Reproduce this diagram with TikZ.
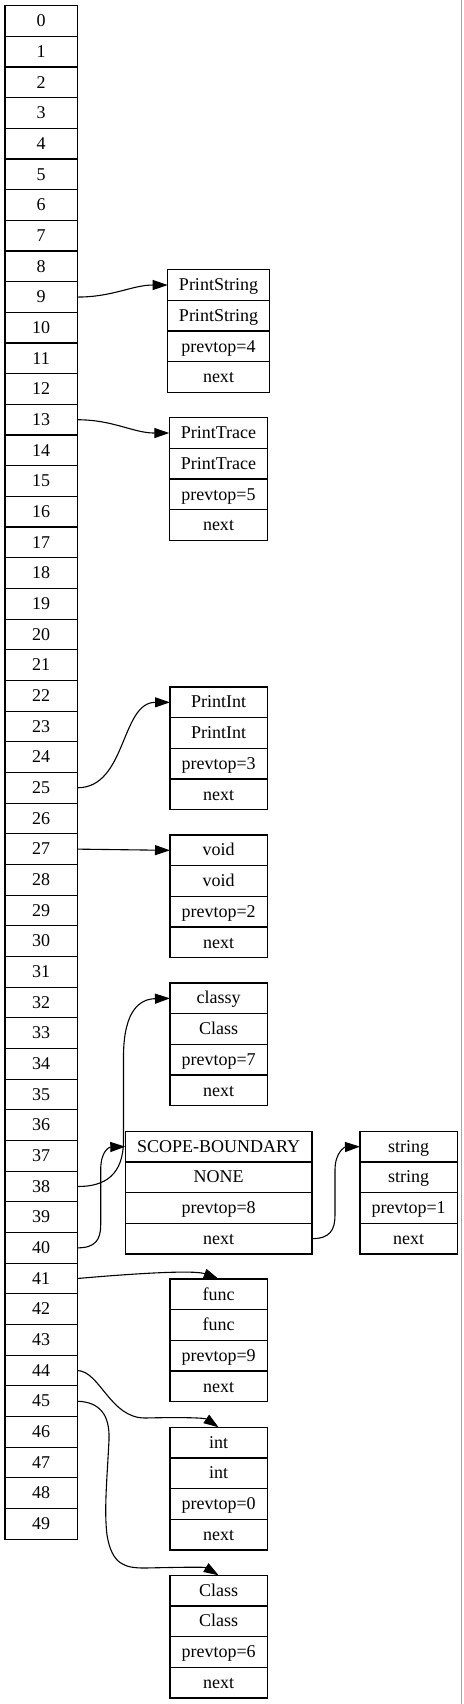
\documentclass[tikz,border=0pt]{standalone}
\usepackage{fontspec}
\newfontfamily\recfont{Liberation Serif}
\usetikzlibrary{positioning,arrows.meta}

\tikzset{
	cell/.style={draw, line width=1.2pt, minimum width=72.3pt, minimum height=30.67pt,
		inner sep=0pt, outer sep=0pt, text height=13pt, text depth=1.7pt,
		font=\recfont\fontsize{18pt}{20pt}\selectfont},
	field/.style={cell},
	link/.style={line width=1.1pt, -{Triangle[length=15pt,width=10pt]}}
}

\begin{document}
\begin{tikzpicture}[x=1pt, y=-1pt]
		\useasboundingbox (0,0) rectangle (463,1704);
		\draw[gray!70, line width=1.3pt] (461.7,0) -- (461.7,1704);

		% the table of slots
		\foreach \i in {0,...,49} {
			\node[cell] (c\i) at (41.15, {5.7+30.67*(\i+0.5)}) {\i};
		}

		% the entries
		\foreach \nm/\xc/\yt/\w/\ta/\tb/\tc in {
				ps/218.5/269.7/101.6/PrintString/PrintString/4,
				pt/218.5/417.7/98.4/PrintTrace/PrintTrace/5,
				pi/218.65/687/97.3/PrintInt/PrintInt/3,
				vd/218.65/835/97.3/void/void/2,
				cl/218.65/983/97.3/classy/Class/7,
				sb/218.65/1131.3/186.7/SCOPE-BOUNDARY/NONE/8,
				st/408.65/1131.3/97.3/string/string/1,
				fn/218.65/1279/97.3/func/func/9,
				it/218.65/1427.3/97.3/int/int/0,
				cs/218.65/1575.3/97.3/Class/Class/6} {
			\node[field, minimum width=\w pt, anchor=north] (\nm-1) at (\xc,\yt) {\ta};
			\node[field, minimum width=\w pt, below=0pt of \nm-1] (\nm-2) {\tb};
			\node[field, minimum width=\w pt, below=0pt of \nm-2] (\nm-3) {prevtop=\tc};
			\node[field, minimum width=\w pt, below=0pt of \nm-3] (\nm-4) {next};
		}

		\draw[link] (c9.east) to[out=0, in=180] (ps-1.west);
		\draw[link] (c13.east) to[out=0, in=180] (pt-1.west);
		\draw[link] (c25.east) to[out=0, in=180] (pi-1.west);
		\draw[link] (c27.east) -- (vd-1.west);
		\draw[link] (c38.east) .. controls (105,1186.7) and (123.5,1175) .. (123.5,1140)
			-- (123.5,1055) .. controls (124,1010) and (140,999) .. (cl-1.west);
		\draw[link] (c40.east) .. controls (95,1248) and (100.7,1240) .. (100.7,1225)
			-- (100.7,1170) .. controls (100.7,1150) and (110,1147) .. (sb-1.west);
		\draw[link] (sb-4.east) .. controls (330,1238.6) and (335,1230) .. (335,1215)
			-- (335,1170) .. controls (335,1152) and (345,1147) .. (st-1.west);
		\draw[link] (c41.east) .. controls (140,1273) and (195,1270) .. (fn-1.north);
		\draw[link] (c44.east) .. controls (100,1371) and (110,1418) .. (145,1418)
			.. controls (185,1417) and (205,1418) .. (it-1.north);
		\draw[link] (c45.east) .. controls (100,1402) and (110,1415) .. (109,1440)
			.. controls (107,1480) and (104,1510) .. (107,1535)
			.. controls (112,1565) and (125,1568) .. (145,1568)
			.. controls (190,1567) and (205,1567) .. (cs-1.north);
	\end{tikzpicture}
\end{document}
